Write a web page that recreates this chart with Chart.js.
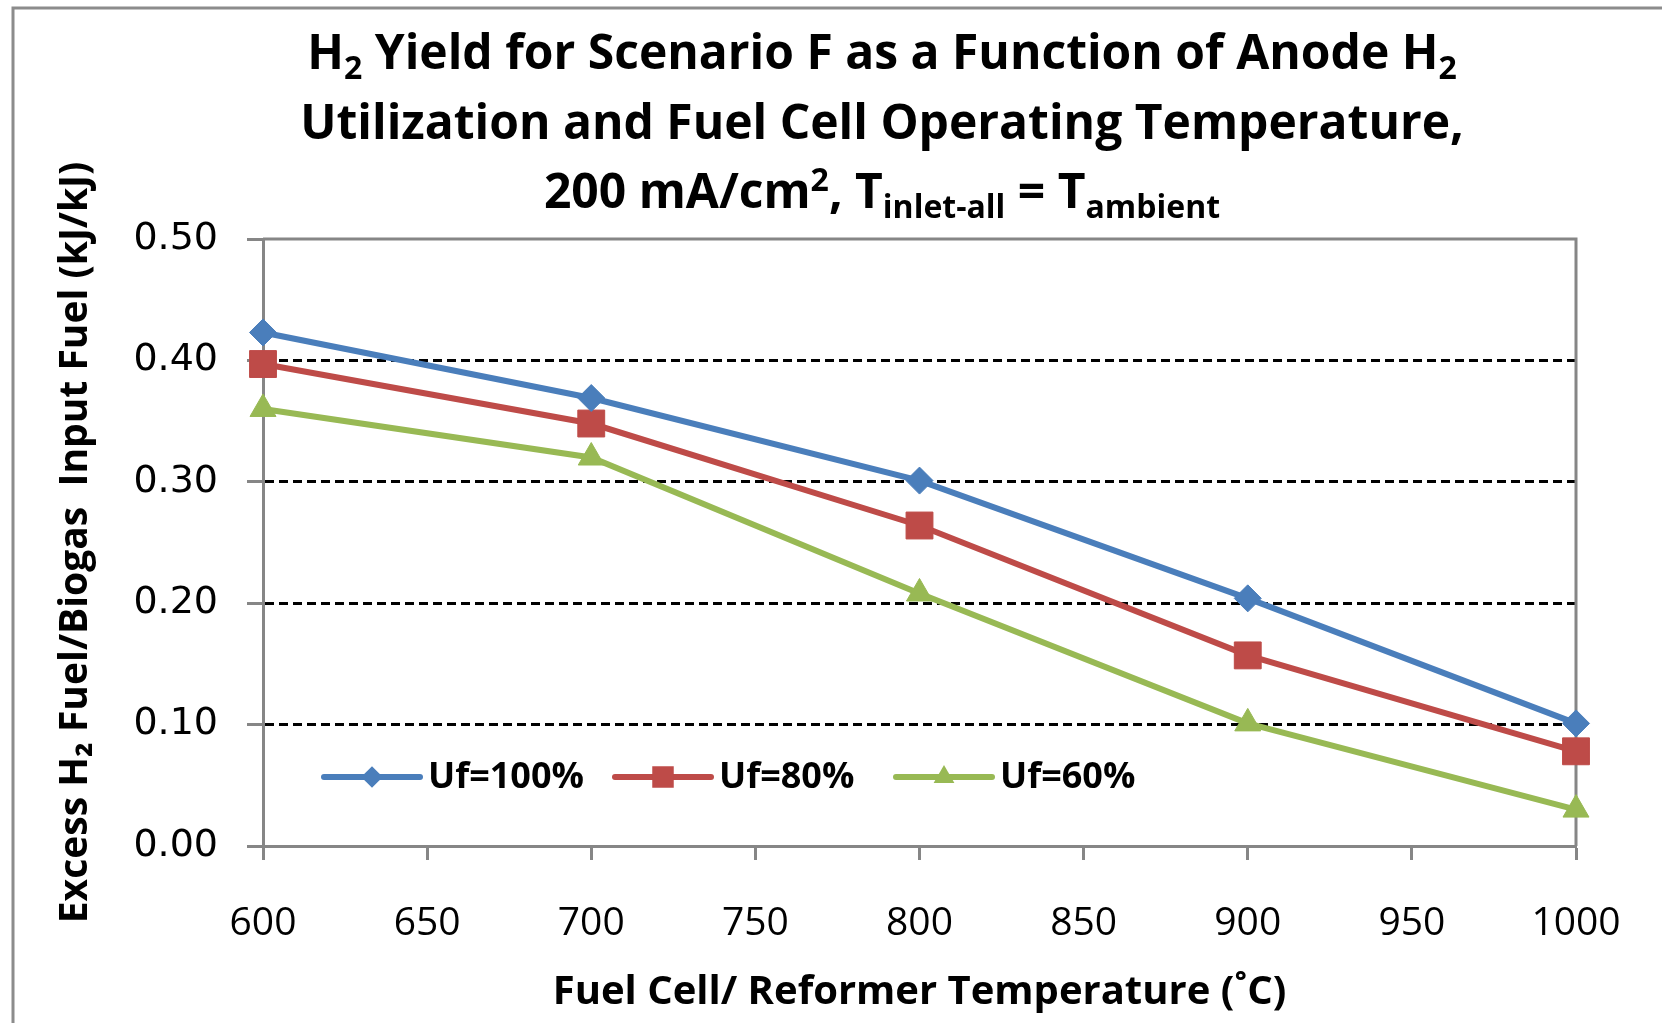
<!DOCTYPE html>
<html>
<head>
<meta charset="utf-8">
<script src="https://cdn.jsdelivr.net/npm/chart.js@4.4.1/dist/chart.umd.min.js"></script>
<style>
  html, body { margin: 0; padding: 0; background: #fff; }
  #wrap { width: 1662px; height: 1023px; position: relative; }
</style>
</head>
<body>
<div id="wrap"><canvas id="myChart"></canvas></div>
<script>
// datos
const temperaturas = [600, 700, 800, 900, 1000];
const uf100 = [0.423, 0.369, 0.301, 0.204, 0.101];
const uf80 = [0.397, 0.348, 0.264, 0.157, 0.078];
const uf60 = [0.360, 0.320, 0.208, 0.101, 0.030];
const nombresSeries = ['Uf=100%', 'Uf=80%', 'Uf=60%'];
const colores = ['#4A7EBB', '#BE4B48', '#98B954'];
const marcadores = ['rectRot', 'rect', 'triangle'];
const radios = [13.5, 19, 15];

// titulo con subindices: [texto, tipo] tipo = '' normal, 'sub', 'sup'
const lineasTitulo = [
  [['H', ''], ['2', 'sub'], [' Yield for Scenario F as a Function of Anode H', ''], ['2', 'sub']],
  [['Utilization and Fuel Cell Operating Temperature,', '']],
  [['200 mA/cm', ''], ['2', 'sup'], [', T', ''], ['inlet-all', 'sub'], [' = T', ''], ['ambient', 'sub']]
];
const tituloY = 'Excess H\u2082 Fuel/Biogas  Input Fuel (kJ/kJ)';
const tituloX = 'Fuel Cell/ Reformer Temperature (\u02DAC)';

const gris = '#868686';

function puntos(valores) {
  return temperaturas.map((t, i) => ({ x: t, y: valores[i] }));
}

const series = [uf100, uf80, uf60];
const datasets = series.map((s, i) => ({
  label: nombresSeries[i],
  data: puntos(s),
  borderColor: colores[i],
  backgroundColor: colores[i],
  borderWidth: 6,
  pointStyle: marcadores[i],
  pointRadius: radios[i],
  pointHoverRadius: radios[i],
  pointBackgroundColor: colores[i],
  pointBorderColor: colores[i],
  pointBorderWidth: 1,
  tension: 0,
  clip: false
}));

// marco exterior gris
const marco = {
  id: 'marco',
  beforeDraw(chart) {
    const ctx = chart.ctx;
    ctx.save();
    ctx.fillStyle = '#fff';
    ctx.fillRect(0, 0, chart.width, chart.height);
    ctx.strokeStyle = '#8c8c8c';
    ctx.lineWidth = 3;
    ctx.beginPath();
    ctx.moveTo(13, chart.height + 5);
    ctx.lineTo(13, 8);
    ctx.lineTo(chart.width + 5, 8);
    ctx.stroke();
    ctx.restore();
  },
  beforeDatasetsDraw(chart) {
    const a = chart.chartArea;
    const ctx = chart.ctx;
    ctx.save();
    ctx.strokeStyle = gris;
    ctx.lineWidth = 3;
    ctx.beginPath();
    ctx.moveTo(a.left, a.top);
    ctx.lineTo(a.right, a.top);
    ctx.lineTo(a.right, a.bottom);
    ctx.stroke();
    ctx.restore();
  }
};

// titulo de varias lineas con subindices
const titulo = {
  id: 'titulo',
  afterDraw(chart) {
    const ctx = chart.ctx;
    const centro = 882;
    const bases = [69, 139, 208];
    const fNormal = 'bold 48px "Open Sans"';
    const fPeq = 'bold 32px "Open Sans"';
    ctx.save();
    ctx.fillStyle = '#000';
    ctx.textBaseline = 'alphabetic';
    ctx.textAlign = 'left';
    lineasTitulo.forEach((linea, n) => {
      let ancho = 0;
      linea.forEach(([txt, tipo]) => {
        ctx.font = tipo ? fPeq : fNormal;
        ancho += ctx.measureText(txt).width;
      });
      let x = centro - ancho / 2;
      linea.forEach(([txt, tipo]) => {
        ctx.font = tipo ? fPeq : fNormal;
        let y = bases[n];
        if (tipo === 'sub') y += 10;
        if (tipo === 'sup') y -= 17;
        ctx.fillText(txt, x, y);
        x += ctx.measureText(txt).width;
      });
    });
    ctx.restore();
  }
};

function marcador(ctx, tipo, x, y, r, color) {
  ctx.fillStyle = color;
  ctx.beginPath();
  if (tipo === 'rectRot') {
    ctx.moveTo(x - r, y); ctx.lineTo(x, y - r); ctx.lineTo(x + r, y); ctx.lineTo(x, y + r);
  } else if (tipo === 'rect') {
    const s = r * Math.SQRT1_2;
    ctx.rect(x - s, y - s, 2 * s, 2 * s);
  } else {
    ctx.moveTo(x, y - r);
    ctx.lineTo(x + r * Math.sin(2 * Math.PI / 3), y - r * Math.cos(2 * Math.PI / 3));
    ctx.lineTo(x + r * Math.sin(4 * Math.PI / 3), y - r * Math.cos(4 * Math.PI / 3));
  }
  ctx.closePath();
  ctx.fill();
}

// leyenda dentro del area de la grafica
const leyenda = {
  id: 'leyenda',
  afterDatasetsDraw(chart) {
    const ctx = chart.ctx;
    const a = chart.chartArea;
    const inicios = [61, 352, 633];
    const y = 777;
    ctx.save();
    chart.data.datasets.forEach((ds, i) => {
      const x0 = a.left + inicios[i];
      ctx.strokeStyle = ds.borderColor;
      ctx.lineWidth = 6;
      ctx.lineCap = 'round';
      ctx.beginPath();
      ctx.moveTo(x0, y);
      ctx.lineTo(x0 + 96, y);
      ctx.stroke();
      marcador(ctx, ds.pointStyle, x0 + 48, y, ds.pointRadius * 0.8, ds.borderColor);
      ctx.fillStyle = '#000';
      ctx.font = 'bold 36px "Open Sans"';
      ctx.textBaseline = 'middle';
      ctx.textAlign = 'left';
      ctx.fillText(ds.label, x0 + 104, y + 1);
    });
    ctx.restore();
  }
};

const config = {
  type: 'line',
  data: { datasets: datasets },
  options: {
    responsive: true,
    maintainAspectRatio: false,
    animation: false,
    events: [],
    layout: { padding: { top: 239, right: 86, left: 0, bottom: 0 } },
    plugins: {
      legend: { display: false },
      title: { display: false },
      tooltip: { enabled: false }
    },
    scales: {
      x: {
        type: 'linear',
        min: 600,
        max: 1000,
        afterFit(scale) { scale.height = 177; },
        ticks: {
          stepSize: 50,
          padding: 40,
          color: '#000',
          font: { family: '"Open Sans"', size: 39 },
          callback: v => String(v)
        },
        grid: {
          drawOnChartArea: false,
          drawTicks: true,
          tickLength: 14,
          tickColor: gris,
          tickWidth: 3
        },
        border: { color: gris, width: 3 },
        title: {
          display: true,
          text: tituloX,
          color: '#000',
          font: { family: '"Open Sans"', size: 40, weight: 'bold' },
          padding: { top: 0, bottom: 6 }
        }
      },
      y: {
        min: 0,
        max: 0.5,
        afterFit(scale) { scale.width = 263; },
        ticks: {
          stepSize: 0.1,
          padding: 29,
          color: '#000',
          font: { family: '"DejaVu Sans"', size: 38 },
          callback: v => v.toFixed(2)
        },
        grid: {
          color: c => (c.tick && (c.tick.value === 0 || Math.abs(c.tick.value - 0.5) < 1e-9)) ? 'rgba(0,0,0,0)' : '#000',
          lineWidth: 3,
          drawTicks: true,
          tickLength: 16,
          tickColor: gris,
          tickWidth: 3,
          tickBorderDash: []
        },
        border: { color: gris, width: 3, dash: [9, 5] },
        title: {
          display: true,
          text: tituloY,
          color: '#000',
          font: { family: '"Open Sans"', size: 39, weight: 'bold' },
          padding: { top: 52, bottom: 0 }
        }
      }
    }
  },
  plugins: [marco, titulo, leyenda]
};

const myChart = new Chart(document.getElementById('myChart'), config);
</script>
</body>
</html>
